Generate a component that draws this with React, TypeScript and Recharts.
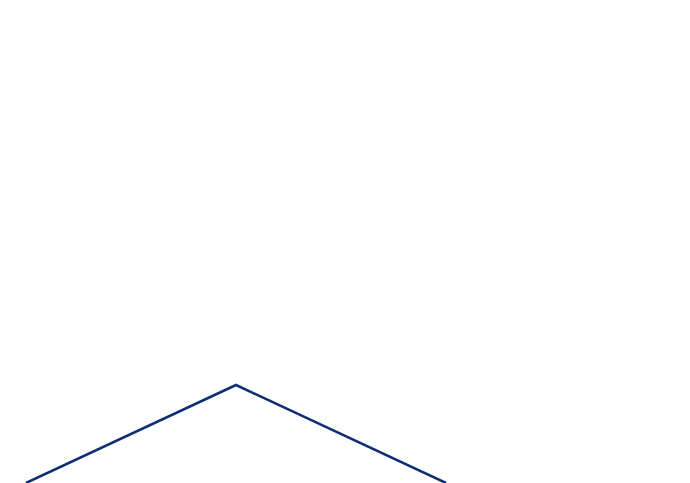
import { LineChart, Line, XAxis, YAxis } from "recharts";

const categories = ["A", "B", "C"];
const values = [0, 100, 0];

const chartData = categories.map((name, i) => ({ name, value: values[i] }));

export default function App() {
  return (
    <LineChart
      width={690}
      height={475}
      data={chartData}
      margin={{ top: 377, right: 252, bottom: 0, left: 18 }}
    >
      <XAxis dataKey="name" hide />
      <YAxis domain={[0, 100]} hide />
      <Line
        type="linear"
        dataKey="value"
        stroke="#0c2f74"
        strokeWidth={2.5}
        dot={false}
        isAnimationActive={false}
      />
    </LineChart>
  );
}
